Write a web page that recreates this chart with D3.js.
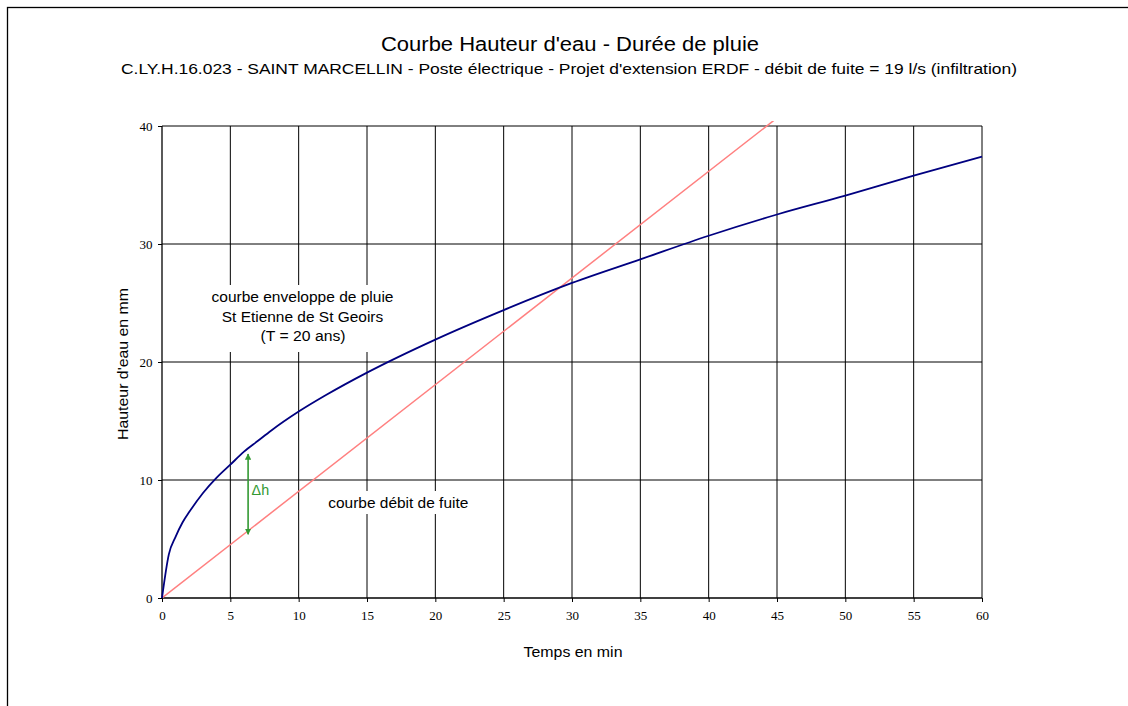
<!DOCTYPE html>
<html><head><meta charset="utf-8">
<script src="https://cdn.jsdelivr.net/npm/d3@7"></script>
<style>
body{margin:0;background:#fff;}
svg{display:block;}
</style></head>
<body>
<svg id="chart" width="1128" height="706"></svg>
<script>
// Data
const pluieTemps   = [0, 0.5, 1, 1.5, 2, 3, 4, 5, 6, 7, 8, 10, 12, 15, 20, 25, 30, 35, 40, 45, 50, 55, 60];
const pluieHauteur = [0, 3.7, 5.2, 6.4, 7.3, 8.9, 10.2, 11.3, 12.4, 13.3, 14.2, 15.8, 17.2, 19.1, 21.9, 24.4, 26.7, 28.7, 30.7, 32.5, 34.1, 35.8, 37.4];
const fuiteTemps   = [0, 44.8];
const fuiteHauteur = [0, 40.5];
const xTicks = [0, 5, 10, 15, 20, 25, 30, 35, 40, 45, 50, 55, 60];
const yTicks = [0, 10, 20, 30, 40];
const deltaT = 6.3;
const deltaTop = 12.2, deltaBottom = 5.4;

const SANS = "Liberation Sans, Arial, sans-serif";
const svg = d3.select("#chart");
const M = {left:162, right:982, top:126, bottom:598};
const x = d3.scaleLinear().domain([0,60]).range([M.left, M.right]);
const y = d3.scaleLinear().domain([0,40]).range([M.bottom, M.top]);

function txt(parent, str, cx, by, size, len, opts={}) {
  const t = parent.append("text").attr("x",cx).attr("y",by)
    .attr("text-anchor", opts.anchor || "middle")
    .attr("font-family", opts.family || SANS).attr("font-size", size)
    .attr("fill", opts.fill || "#000").text(str);
  if (len) t.attr("textLength", len).attr("lengthAdjust","spacingAndGlyphs");
  if (opts.transform) t.attr("transform", opts.transform);
  return t;
}

// outer border
svg.append("rect").attr("x",7.5).attr("y",7.5).attr("width",1140).attr("height",720)
  .attr("fill","none").attr("stroke","#000").attr("stroke-width",1.3);

// titles
txt(svg, "Courbe Hauteur d'eau - Durée de pluie", 570, 51, 20, 378);
txt(svg, "C.LY.H.16.023 - SAINT MARCELLIN - Poste électrique - Projet d'extension ERDF - débit de fuite = 19 l/s (infiltration)", 569, 74, 15, 896);

// grid
const g = svg.append("g");
g.selectAll("line.vg").data(xTicks.filter(d=>d>0)).enter().append("line")
  .attr("x1",d=>x(d)).attr("x2",d=>x(d)).attr("y1",M.top).attr("y2",M.bottom)
  .attr("stroke","#000").attr("stroke-width",1);
g.selectAll("line.hg").data(yTicks.filter(d=>d>0)).enter().append("line")
  .attr("x1",M.left).attr("x2",M.right).attr("y1",d=>y(d)).attr("y2",d=>y(d))
  .attr("stroke","#000").attr("stroke-width",1);

// axes
const xAxis = d3.axisBottom(x).tickValues(xTicks).tickSize(4).tickPadding(9).tickFormat(d3.format("d"));
const yAxis = d3.axisLeft(y).tickValues(yTicks).tickSize(4).tickPadding(5.5).tickFormat(d3.format("d"));
const gx = svg.append("g").attr("transform",`translate(0,${M.bottom})`).call(xAxis);
const gy = svg.append("g").attr("transform",`translate(${M.left},0)`).call(yAxis);
[gx,gy].forEach(a=>{
  a.select(".domain").attr("stroke","#000").attr("stroke-width",1.3);
  a.selectAll(".tick line").attr("stroke","#000");
  a.selectAll(".tick text").attr("font-family","Liberation Serif, Times New Roman, serif").attr("font-size",13).attr("fill","#000");
});
gx.select(".domain").attr("d",`M${M.left},0H${M.right}`);
gy.select(".domain").attr("d",`M0,${M.bottom}V${M.top}`);

// annotation backgrounds (mask grid)
svg.append("rect").attr("x",205).attr("y",285).attr("width",196).attr("height",67).attr("fill","#fff");
svg.append("rect").attr("x",322).attr("y",491).attr("width",153).attr("height",23).attr("fill","#fff");

// clip
svg.append("clipPath").attr("id","clip").append("rect")
  .attr("x",M.left).attr("y",M.top-5).attr("width",M.right-M.left).attr("height",M.bottom-M.top+5);

// series
const line = d3.line().x(d=>x(d[0])).y(d=>y(d[1]));
svg.append("path").datum(fuiteTemps.map((t,i)=>[t,fuiteHauteur[i]]))
  .attr("d",line).attr("fill","none").attr("stroke","#ff8080").attr("stroke-width",1.5)
  .attr("clip-path","url(#clip)");
svg.append("path").datum(pluieTemps.map((t,i)=>[t,pluieHauteur[i]]))
  .attr("d",line.curve(d3.curveMonotoneX)).attr("fill","none").attr("stroke","#000080").attr("stroke-width",1.8);

// delta h arrow
const green = "#339933";
const defs = svg.append("defs");
defs.append("marker").attr("id","ah").attr("viewBox","0 0 10 10").attr("refX",9).attr("refY",5)
  .attr("markerWidth",4).attr("markerHeight",4).attr("orient","auto-start-reverse")
  .append("path").attr("d","M0,0L10,5L0,10z").attr("fill",green);
svg.append("line").attr("x1",x(deltaT)).attr("x2",x(deltaT)).attr("y1",y(deltaTop)).attr("y2",y(deltaBottom))
  .attr("stroke",green).attr("stroke-width",1.6)
  .attr("marker-start","url(#ah)").attr("marker-end","url(#ah)");
txt(svg, "Δh", x(deltaT)+3.5, 495, 14, 17.5, {anchor:"start", fill:green});

// annotations
txt(svg, "courbe enveloppe de pluie", 302.5, 302, 14, 182);
txt(svg, "St Etienne de St Geoirs", 302.5, 322, 14, 161.5);
txt(svg, "(T = 20 ans)", 303, 341, 14, 85);
txt(svg, "courbe débit de fuite", 398.3, 508, 14, 140);

// axis titles
txt(svg, "Temps en min", 573, 657, 14.5, 99);
txt(svg, "Hauteur d'eau en mm", 0, 0, 14, 152, {transform:"translate(128,364) rotate(-90)"});
</script>
</body></html>
